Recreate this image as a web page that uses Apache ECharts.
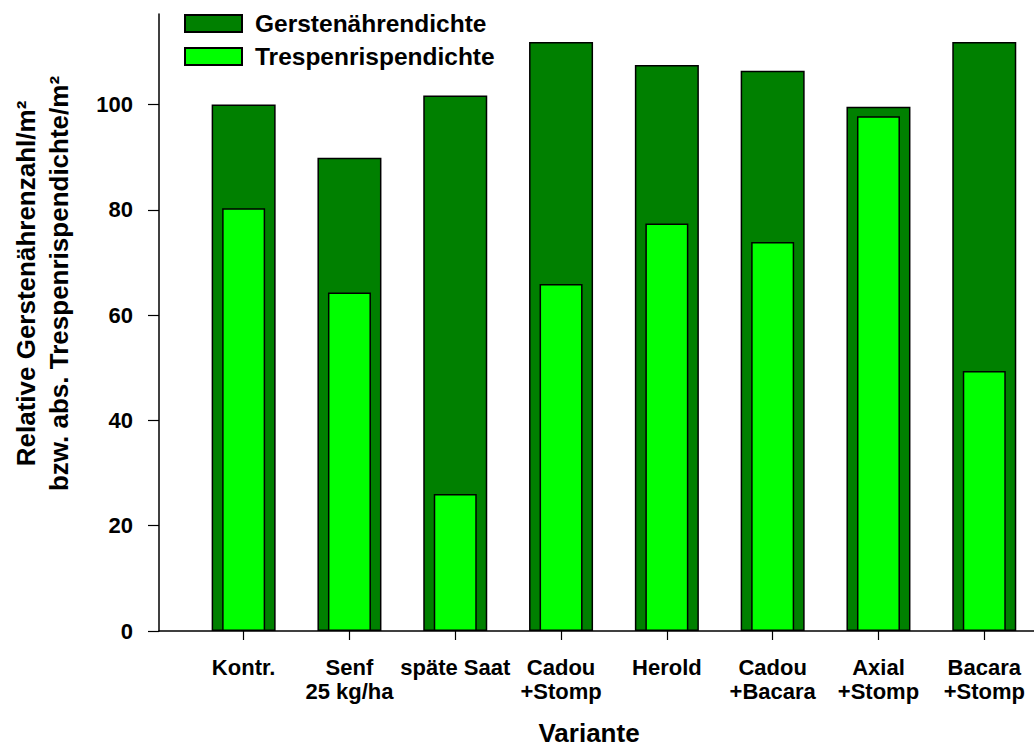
<!DOCTYPE html>
<html>
<head>
<meta charset="utf-8">
<script src="https://cdn.jsdelivr.net/npm/echarts@6/dist/echarts.min.js"></script>
<style>
html,body{margin:0;padding:0;background:#fff;}
#chart{width:1034px;height:756px;}
</style>
</head>
<body>
<div id="chart"></div>
<script>
// ---- data ----
const categories = ['Kontr.', 'Senf\n25 kg/ha', 'späte Saat', 'Cadou\n+Stomp', 'Herold', 'Cadou\n+Bacara', 'Axial\n+Stomp', 'Bacara\n+Stomp'];
const gerste = [100.0, 89.9, 101.7, 111.9, 107.5, 106.4, 99.6, 111.9];
const trespe = [80.3, 64.3, 26.0, 65.9, 77.4, 73.9, 97.8, 49.4];
const yTicks = [0, 20, 40, 60, 80, 100];
const seriesNames = ['Gerstenährendichte', 'Trespenrispendichte'];
const yTitle = 'Relative Gerstenährenzahl/m²\nbzw. abs. Trespenrispendichte/m²';
const xTitle = 'Variante';

const catIdx = categories.map((c, i) => i);
const FONT = '"Liberation Sans", Arial, Helvetica, sans-serif';
const XMIN = -0.8, XMAX = 7.47;

const chart = echarts.init(document.getElementById('chart'), null, {renderer: 'svg'});
chart.setOption({
  animation: false,
  backgroundColor: '#ffffff',
  textStyle: {fontFamily: FONT, fontWeight: 'bold', color: '#000'},
  grid: {left: 159, right: 0, top: 14, bottom: 125, containLabel: false, outerBoundsMode: 'none'},
  legend: {
    orient: 'vertical',
    left: 184, top: 11, padding: 0,
    itemWidth: 57, itemHeight: 17, itemGap: 8,
    icon: 'rect',
    textStyle: {fontFamily: FONT, fontWeight: 'bold', fontSize: 24.5, color: '#000', lineHeight: 19, padding: [0, 0, 0, 8]},
    data: seriesNames
  },
  xAxis: [{
    type: 'value', min: XMIN, max: XMAX,
    axisLine: {show: true, onZero: false, lineStyle: {color: '#000', width: 1.5}},
    axisTick: {show: true, customValues: catIdx, length: 9, lineStyle: {color: '#000', width: 1.2}},
    axisLabel: {
      show: true, customValues: catIdx, margin: 24,
      formatter: v => categories[Math.round(v)] || '',
      fontFamily: FONT, fontWeight: 'bold', fontSize: 22, lineHeight: 24, color: '#000'
    },
    splitLine: {show: false},
    name: xTitle, nameLocation: 'middle', nameGap: 89, nameMoveOverlap: false,
    nameTextStyle: {fontFamily: FONT, fontWeight: 'bold', fontSize: 26, color: '#000', padding: [0, 15, 0, 0]}
  }, {
    type: 'value', min: XMIN, max: XMAX, show: false
  }],
  yAxis: {
    type: 'value', min: 0, max: 117.2, interval: 20,
    axisLine: {show: true, onZero: false, lineStyle: {color: '#000', width: 1.5}},
    axisTick: {show: true, customValues: yTicks, length: 11, lineStyle: {color: '#000', width: 1.2}},
    axisLabel: {
      show: true, customValues: yTicks, margin: 26,
      fontFamily: FONT, fontWeight: 'bold', fontSize: 22, color: '#000'
    },
    splitLine: {show: false},
    name: yTitle, nameLocation: 'middle', nameGap: 84, nameRotate: 90, nameMoveOverlap: false,
    nameTextStyle: {fontFamily: FONT, fontWeight: 'bold', fontSize: 26, lineHeight: 33, color: '#000', padding: [0, 0, 0, 78]}
  },
  series: [{
    name: seriesNames[0], type: 'bar', xAxisIndex: 0,
    barWidth: 64,
    itemStyle: {color: '#008000', borderColor: '#000', borderWidth: 1.5},
    data: gerste.map((v, i) => [i, v])
  }, {
    name: seriesNames[1], type: 'bar', xAxisIndex: 1,
    barWidth: 43,
    itemStyle: {color: '#00ff00', borderColor: '#000', borderWidth: 1.5},
    data: trespe.map((v, i) => [i, v])
  }]
});
</script>
</body>
</html>
